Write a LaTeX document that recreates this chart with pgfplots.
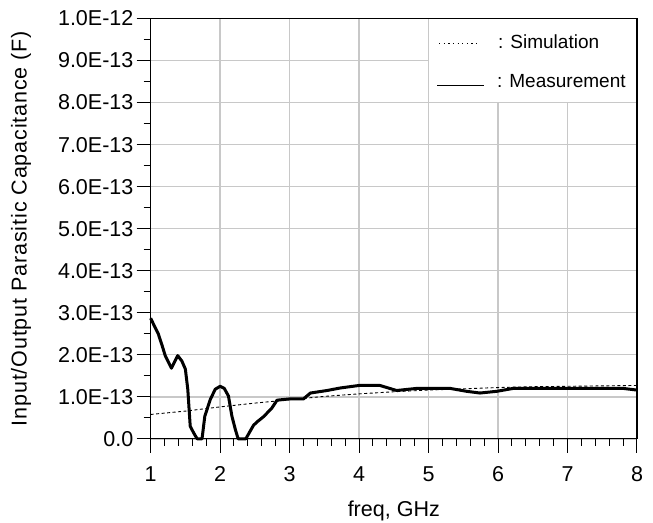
\documentclass[border=0pt]{standalone}
\usepackage{fontspec}
\setmainfont{Liberation Sans}
\newfontfamily\ylabfont{Liberation Sans}[LetterSpace=4]
\usepackage{pgfplots}
\pgfplotsset{compat=1.18}
\definecolor{gridgray}{RGB}{200,200,200}

\begin{document}
\begin{tikzpicture}
\begin{axis}[name=ax, scale only axis, width=486bp, height=420bp,
    xmin=1, xmax=8, ymin=0, ymax=1e-12,
    xtick={1,2,3,4,5,6,7,8}, xticklabels={1,2,3,4,5,6,7,8},
    minor x tick num=4,
    ytick={0,1e-13,2e-13,3e-13,4e-13,5e-13,6e-13,7e-13,8e-13,9e-13,1e-12},
    yticklabels={0.0,1.0E-13,2.0E-13,3.0E-13,4.0E-13,5.0E-13,6.0E-13,7.0E-13,8.0E-13,9.0E-13,1.0E-12},
    minor y tick num=1,
    scaled y ticks=false,
    tick pos=left,
    tick align=outside, major tick length=14bp, minor tick length=7bp,
    tick style={black, line width=1bp},
    axis line style={black, line width=1.2bp},
    grid=major, major grid style={gridgray, line width=1.4bp},
    every tick label/.append style={font=\fontsize{21.5bp}{24bp}\selectfont},
    xticklabel style={anchor=base, yshift=-29bp},
    yticklabel style={anchor=east, inner sep=0pt, xshift=-3bp},
    xlabel={freq, GHz},
    ylabel={\ylabfont Input/Output Parasitic Capacitance (F)},
    every axis x label/.style={at={(rel axis cs:0.5,-0.1845)}, anchor=base,
        font=\fontsize{21.5bp}{24bp}\selectfont},
    every axis y label/.style={at={(rel axis cs:-0.2665,0.5)}, rotate=90, anchor=center,
        font=\fontsize{21.5bp}{24bp}\selectfont},
    clip=false,
    legend style={at={(axis cs:5.108,9.66e-13)}, anchor=north west, draw=none, fill=none,
        font=\fontsize{19bp}{22bp}\selectfont, row sep=20bp, inner sep=0pt},
    legend cell align=left,
    /tikz/every even column/.append style={column sep=0bp},
    ]
% legend area is blanked out over the grid
\fill[white] (axis cs:5,8e-13) rectangle (axis cs:8,1e-12);
\draw[gridgray, line width=1.4bp] (axis cs:5,8e-13) -- (axis cs:5,1e-12);
\draw[gridgray, line width=1.4bp] (axis cs:5,8e-13) -- (axis cs:8,8e-13);
\draw[black, line width=1.2bp] (axis cs:5,1e-12) -- (axis cs:8,1e-12) -- (axis cs:8,8e-13);

\addlegendimage{legend image code/.code={
    \draw[black, line width=0.8bp, dash pattern=on 1.2bp off 3.4bp] (2bp,-1bp) -- (42bp,-1bp);}}
\addlegendentry{\hspace{11bp}: Simulation}
\addlegendimage{legend image code/.code={
    \draw[black, line width=1.8bp] (0bp,-4bp) -- (47bp,-4bp);}}
\addlegendentry{\hspace{10bp}: Measurement}

% simulation
\addplot[black, line width=0.9bp, dash pattern=on 3bp off 2.5bp, forget plot] coordinates {
 (1.0,0.58e-13) (1.5,0.66e-13) (2.0,0.76e-13) (2.5,0.85e-13) (3.0,0.93e-13)
 (3.5,1.01e-13) (4.0,1.07e-13) (4.5,1.12e-13) (5.0,1.16e-13) (5.5,1.19e-13)
 (6.0,1.22e-13) (6.5,1.24e-13) (7.0,1.25e-13) (7.5,1.26e-13) (8.0,1.27e-13)};
% measurement
\addplot[black, line width=3bp, line join=round, forget plot] coordinates {
 (1.00,2.87e-13) (1.05,2.70e-13) (1.11,2.50e-13) (1.16,2.25e-13) (1.21,1.98e-13)
 (1.30,1.68e-13) (1.39,1.98e-13) (1.45,1.85e-13) (1.50,1.66e-13) (1.535,1.18e-13)
 (1.57,0.30e-13) (1.62,0.14e-13) (1.67,0.00e-13) (1.74,0.00e-13) (1.78,0.54e-13)
 (1.86,0.94e-13) (1.93,1.18e-13) (2.00,1.25e-13) (2.06,1.20e-13) (2.12,1.02e-13)
 (2.17,0.54e-13) (2.22,0.22e-13) (2.26,0.00e-13) (2.37,0.00e-13) (2.48,0.32e-13)
 (2.53,0.40e-13) (2.62,0.52e-13) (2.74,0.72e-13) (2.82,0.92e-13) (3.00,0.95e-13)
 (3.20,0.95e-13) (3.30,1.09e-13) (3.54,1.15e-13) (3.73,1.21e-13) (4.00,1.27e-13)
 (4.30,1.27e-13) (4.54,1.15e-13) (4.83,1.20e-13) (5.31,1.20e-13) (5.55,1.13e-13)
 (5.74,1.09e-13) (5.98,1.13e-13) (6.22,1.20e-13) (7.80,1.20e-13) (8.00,1.16e-13)};
\end{axis}
\pgfresetboundingbox
\path[use as bounding box] ([xshift=-150.5bp,yshift=-84bp]ax.south west)
    rectangle ([xshift=16bp,yshift=18.5bp]ax.north east);
\end{tikzpicture}
\end{document}
